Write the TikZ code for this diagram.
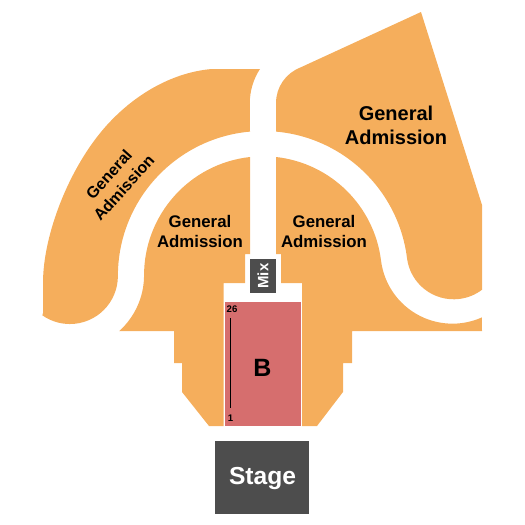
\documentclass[tikz,border=0pt]{standalone}
\usepackage{fontspec}
\setmainfont{Liberation Sans}
\definecolor{ga}{HTML}{F5AE5C}
\definecolor{secb}{HTML}{D66E6E}
\definecolor{darkbox}{HTML}{4D4D4D}
\tikzset{
  zone/.style={fill=ga,draw=none},
  lab/.style 2 args={align=center,text=black,inner sep=0pt,font=\bfseries\fontsize{#1}{#2}\selectfont}
}
\begin{document}
\begin{tikzpicture}[x=1pt,y=-1pt]
\useasboundingbox (0,0) rectangle (525,525);
% left outer zone
\path[zone] (43,313) -- (43,283) .. controls (43,235) and (69,167) .. (107,125)
  .. controls (137,92) and (175,72) .. (212,69) -- (260,69)
  arc[start angle=213.3,end angle=180,radius=62] -- (250,131.6)
  arc[start angle=264.9,end angle=180,radius=145]
  arc[start angle=0,end angle=125,radius=48] -- cycle;
% inner zone with tails
\path[zone] (250,157) arc[start angle=263.7,end angle=180,radius=119]
  arc[start angle=0,end angle=48,radius=75] -- (174,331) -- (174,363) -- (182,363) -- (182,392)
  -- (209,426) -- (223.5,426) -- (223.5,283) -- (245,283) -- (245,254) -- (250,254) -- cycle;
\path[zone] (276,157) arc[start angle=276.3,end angle=352.9,radius=119]
  arc[start angle=172.9,end angle=65.9,radius=72] -- (482,331) -- (352,331) -- (352,363)
  -- (343,363) -- (343,392) -- (317,426) -- (302,426) -- (302,283) -- (281,283) -- (281,254) -- (276,254) -- cycle;
% right outer zone
\path[zone] (276,131.6) arc[start angle=275.1,end angle=352.9,radius=145]
  arc[start angle=172.9,end angle=52.7,radius=47] -- (482,205) -- (421,12) -- (300.4,67.5)
  arc[start angle=249,end angle=180,radius=38] -- cycle;
% block B
\fill[secb] (225,302) rectangle (301,426);
\draw[black,line width=0.8pt] (230.5,318) -- (230.5,408);
\node[lab={9.6}{11}] (n26) at (232,309.5) {26};
\node[lab={9.6}{11}] (n1) at (230.5,418) {1};
\node[lab={25}{30}] (blockb) at (262.5,368) {B};
% mix
\fill[darkbox] (250,259) rectangle (276,293);
\node[lab={15}{18},text=white,rotate=90] (mix) at (263,276) {Mix};
% stage
\fill[darkbox] (215,441) rectangle (309,514);
\node[lab={24.6}{30},text=white] (stage) at (262.5,479) {Stage};
% labels
\node[lab={20}{24}] (ga1) at (396,125) {General\\Admission};
\node[lab={16.8}{20}] (ga2) at (200,231) {General\\Admission};
\node[lab={16.8}{20}] (ga3) at (324,231) {General\\Admission};
\node[lab={16}{20},rotate=48] (ga4) at (116.3,181) {General\\Admission};
\end{tikzpicture}
\end{document}
